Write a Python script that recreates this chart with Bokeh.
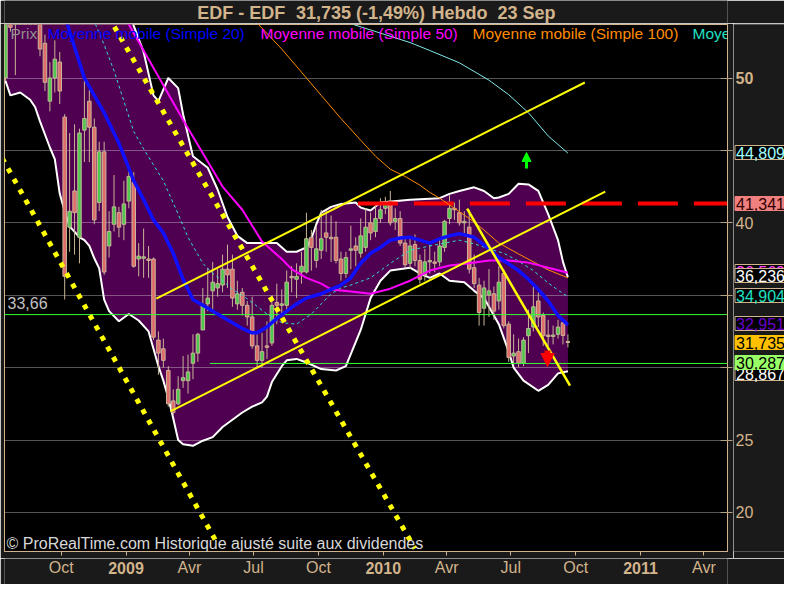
import numpy as np
import pandas as pd
from bokeh.plotting import figure
from bokeh.layouts import column, row
from bokeh.models import Range1d, FixedTicker, Label, Arrow, NormalHead, ColumnDataSource
from bokeh.core.properties import value
from bokeh.embed import file_html
from bokeh.resources import INLINE

# ---------------- data (weekly candles, EDF) ----------------
last_week = "2010-09-20"
opens = [50.0, 56.0, 55.5, 56.0, 57.0, 56.0, 56.5, 55.0, 52.4, 48.4,
         50.0, 51.1, 47.3, 39.7, 42.2, 39.0, 46.4, 48.4, 46.6, 41.4,
         44.9, 38.4, 39.9, 40.7, 39.9, 41.5, 42.8, 37.5, 37.55, 37.5,
         37.5, 31.9, 31.3, 29.8, 27.7, 27.5, 29.1, 29.1, 30.3, 31.0,
         32.6, 34.4, 35.3, 35.5, 35.7, 36.8, 36.8, 34.4, 35.2, 34.3,
         33.5, 31.5, 30.5, 31.5, 31.7, 34.5, 34.3, 34.3, 36.3, 36.1,
         36.6, 36.6, 39.0, 37.4, 38.1, 39.3, 39.0, 39.0, 37.5, 36.5,
         38.1, 38.4, 37.9, 38.3, 40.0, 39.4, 40.3, 41.0, 41.5, 40.1,
         40.3, 38.6, 37.2, 38.5, 37.4, 36.4, 37.3, 37.3, 37.3, 38.3,
         40.3, 41.0, 40.7, 40.0, 39.7, 36.9, 35.7, 34.1, 35.0, 35.1,
         34.6, 36.5, 33.0, 30.8, 31.1, 30.3, 32.2, 32.8, 34.6, 33.6,
         32.25, 32.15, 32.3, 33.1, 31.8]
highs = [55.0, 56.5, 56.8, 58.0, 57.8, 57.5, 57.0, 55.5, 53.0, 51.1,
         52.6, 51.8, 47.5, 46.2, 46.8, 46.5, 50.1, 49.2, 47.2, 45.6,
         45.6, 40.8, 43.3, 41.1, 42.9, 44.0, 43.5, 38.6, 39.6, 38.4,
         37.6, 32.5, 32.0, 30.1, 28.5, 29.4, 30.8, 30.9, 32.3, 32.4,
         35.5, 36.9, 37.3, 36.8, 37.8, 38.5, 37.8, 36.0, 35.5, 34.6,
         34.9, 32.3, 32.4, 33.2, 35.0, 35.8, 35.4, 36.7, 37.0, 37.2,
         38.0, 40.7, 39.5, 39.8, 40.9, 40.8, 40.5, 40.1, 38.0, 38.0,
         39.8, 39.0, 40.3, 41.0, 40.7, 41.3, 41.7, 41.8, 42.2, 41.0,
         40.8, 39.0, 39.0, 39.2, 37.8, 38.2, 38.5, 38.0, 38.8, 40.2,
         41.9, 41.4, 41.6, 40.8, 40.9, 37.8, 36.2, 36.0, 36.8, 35.6,
         37.0, 36.8, 33.2, 32.3, 32.0, 32.1, 34.0, 35.6, 35.2, 33.8,
         33.3, 32.9, 33.3, 33.3, 32.3]
lows = [49.8, 53.2, 50.2, 54.5, 55.0, 54.8, 54.0, 51.5, 49.1, 47.7,
        49.0, 48.2, 34.7, 38.0, 37.8, 37.2, 44.2, 44.2, 39.9, 40.8,
        36.4, 37.6, 39.4, 39.0, 38.8, 41.0, 36.9, 36.3, 36.2, 36.2,
        31.9, 29.5, 30.0, 27.3, 26.7, 27.4, 28.6, 28.2, 29.2, 30.4,
        32.6, 33.9, 34.0, 34.9, 35.2, 35.5, 34.2, 34.0, 33.6, 32.9,
        31.3, 29.9, 30.0, 30.6, 31.5, 33.0, 33.5, 33.9, 35.2, 34.8,
        35.8, 36.5, 36.7, 36.9, 37.5, 38.0, 37.3, 37.2, 36.0, 36.2,
        36.8, 37.0, 37.6, 38.0, 38.8, 39.0, 40.0, 40.6, 39.8, 39.5,
        38.4, 36.9, 36.8, 37.0, 35.8, 36.0, 36.5, 36.6, 37.0, 38.0,
        39.9, 40.2, 39.8, 39.3, 36.5, 35.5, 32.9, 32.9, 33.5, 33.3,
        34.0, 32.7, 30.4, 30.2, 30.0, 30.1, 31.0, 32.5, 32.8, 31.5,
        31.5, 31.6, 32.0, 31.6, 31.4]
closes = [54.5, 53.5, 56.0, 57.0, 56.0, 56.5, 55.0, 52.0, 49.7, 50.0,
          51.3, 49.1, 36.3, 40.8, 40.7, 46.2, 47.2, 46.6, 40.2, 44.9,
          36.6, 39.4, 41.1, 39.7, 41.3, 43.2, 37.0, 37.7, 37.65, 37.4,
          32.1, 31.0, 30.5, 27.5, 26.9, 28.5, 29.3, 29.7, 31.0, 32.3,
          34.3, 34.8, 35.9, 35.8, 36.8, 36.4, 34.8, 35.1, 34.3, 33.5,
          31.5, 30.5, 31.1, 31.4, 34.3, 34.3, 34.4, 35.9, 36.2, 36.3,
          37.0, 38.9, 38.3, 38.2, 38.9, 39.0, 38.9, 37.4, 36.5, 37.6,
          38.2, 38.1, 39.1, 39.7, 39.3, 40.3, 40.9, 41.3, 40.0, 40.3,
          38.6, 37.1, 38.4, 37.4, 36.1, 37.3, 37.4, 37.2, 38.4, 40.1,
          41.0, 40.9, 40.0, 40.1, 36.8, 35.8, 33.8, 35.5, 35.3, 33.9,
          35.9, 32.9, 30.7, 31.0, 30.3, 31.9, 32.7, 34.2, 33.5, 32.2,
          32.15, 32.25, 32.8, 32.215, 31.735]

# moving averages (week index, value)
ma20_idx = [11, 13, 16, 18, 20, 23, 26, 28, 30, 32, 34, 36, 38, 40, 43, 46, 48, 50, 51, 53,
            55, 57, 59, 61, 64, 66, 68, 70, 72, 74, 76, 78, 80, 82, 84, 86, 88, 90, 92, 95,
            98, 100, 104, 106, 108, 110, 112, 114]
ma20_val = [55.5, 53.2, 50.0, 48.8, 47.6, 45.5, 42.9, 41.6, 40.2, 39.3, 37.9, 36.1, 34.7, 34.3,
            33.7, 33.1, 32.7, 32.4, 32.4, 32.8, 33.4, 33.9, 34.4, 34.8, 35.1, 35.4, 35.7, 36.2,
            37.2, 37.9, 38.3, 38.8, 38.95, 39.0, 38.8, 38.6, 38.9, 39.1, 39.25, 39.0, 38.2, 37.6,
            36.7, 36.1, 35.4, 34.6, 33.6, 32.95]
ma50_idx = [24, 28, 32, 36, 40, 44, 48, 52, 56, 58, 61, 64, 66, 70, 74, 78, 82, 86, 90, 94,
            98, 102, 106, 110, 114]
ma50_val = [54.3, 51.9, 49.5, 47.1, 44.8, 42.5, 40.9, 38.7, 37.5, 36.8, 36.2, 35.8, 35.4, 35.25,
            35.1, 35.45, 36.0, 36.7, 37.05, 37.2, 37.4, 37.4, 37.25, 36.9, 36.55]
ma100_idx = [49, 51, 56, 60, 64, 68, 72, 75, 78, 81, 84, 86, 88, 91, 94, 97, 100, 104, 107, 110, 114]
ma100_val = [54.6, 53.8, 52.0, 50.4, 48.8, 47.2, 45.7, 44.6, 43.7, 43.2, 42.6, 42.1, 41.7, 41.0,
             40.3, 39.5, 38.6, 37.85, 37.3, 36.75, 36.2]
ma_long_idx = [68, 70, 76, 82, 86, 92, 98, 102, 106, 110, 114]
ma_long_val = [54.4, 53.75, 53.1, 52.45, 51.9, 51.05, 49.85, 48.85, 47.6, 46.0, 44.81]
ma_short_idx = [16, 18, 20, 22, 24, 26, 28, 30, 32, 35, 37, 40, 42, 44, 46, 48, 50, 53, 56, 59,
                62, 64, 66, 68, 70, 74, 78, 82, 86, 89, 92, 95, 98, 101, 104, 107, 110, 112, 114]
ma_short_val = [55.2, 53.9, 52.3, 50.5, 48.4, 46.3, 45.1, 44.0, 42.9, 40.6, 39.0, 37.2, 36.5,
                36.0, 35.4, 35.0, 34.5, 33.7, 33.1, 33.0, 33.7, 34.4, 35.1, 35.5, 35.7, 36.2,
                37.2, 38.1, 38.4, 38.6, 38.8, 38.55, 38.2, 37.9, 37.35, 36.7, 35.85, 35.35, 34.9]

# Bollinger bands
bb_up_idx = [0, 10, 20, 22, 24, 26, 28, 30, 31, 33, 35, 36, 38, 41, 43, 45, 47, 49, 52, 55,
             57, 59, 61, 62, 63, 64, 66, 68, 71, 72, 74, 76, 82, 88, 90, 92, 95, 97, 99, 100,
             102, 104, 106, 108, 110, 112, 113, 114]
bb_up_val = [62.0, 60.0, 58.0, 57.0, 55.5, 53.6, 51.8, 48.8, 48.4, 50.0, 49.3, 47.5, 44.6, 43.8,
             42.3, 40.4, 39.1, 38.6, 38.6, 38.6, 38.0, 38.0, 38.3, 38.9, 39.9, 40.7, 41.1, 41.3,
             41.4, 41.05, 40.85, 41.4, 41.6, 41.7, 42.0, 42.2, 42.45, 42.2, 41.7, 41.75, 42.0,
             42.7, 42.65, 42.2, 40.6, 38.8, 37.3, 36.24]
bb_lo_idx = [0, 1, 3, 5, 6, 7, 9, 10, 11, 12, 13, 15, 16, 17, 18, 19, 20, 21, 23, 25, 27, 29,
             30, 31, 32, 33, 34, 35, 36, 38, 40, 42, 44, 46, 48, 50, 52, 53, 54, 56, 57, 59, 61,
             64, 67, 69, 72, 74, 76, 78, 82, 84, 86, 88, 90, 93, 95, 97, 100, 102, 103, 105,
             108, 110, 112, 114]
bb_lo_val = [49.8, 48.8, 49.0, 48.5, 48.0, 47.0, 45.2, 44.4, 42.0, 40.8, 39.75, 39.0, 38.8,
             38.4, 37.55, 36.85, 34.7, 33.9, 33.2, 33.7, 33.25, 32.5, 31.3, 30.1, 29.1, 27.9,
             26.5, 25.0, 24.7, 24.6, 24.95, 25.2, 25.9, 26.4, 26.9, 27.3, 27.6, 28.0, 29.0,
             30.1, 30.5, 30.6, 30.35, 29.9, 29.8, 30.1, 32.6, 34.8, 36.0, 36.7, 36.9, 36.5,
             36.2, 36.5, 36.0, 35.9, 35.3, 34.8, 33.0, 31.1, 30.0, 29.1, 28.4, 28.8, 29.6, 29.75]

# drawn objects (dates, prices)
dotted1_dates = ["2008-07-01", "2009-05-08"]
dotted1_vals = [45.2, 18.07]
dotted2_dates = ["2008-11-20", "2010-02-15"]
dotted2_vals = [55.7, 17.50]
chan_up_dates = ["2009-02-13", "2010-10-14"]
chan_up_vals = [34.76, 49.69]
chan_lo_dates = ["2009-03-05", "2010-11-12"]
chan_lo_vals = [26.97, 42.16]
down_dates = ["2010-04-30", "2010-09-23"]
down_vals = [40.98, 28.76]
resistance = 41.341
resistance_from = "2009-11-26"
support_hi = 33.66
support_lo = 30.287
support_lo_from = "2009-04-30"
line_end = "2011-06-30"
line_begin = "2008-06-01"

xtick_dates = ["2008-10-01", "2009-01-01", "2009-04-01", "2009-07-01", "2009-10-01", "2010-01-01",
               "2010-04-01", "2010-07-01", "2010-10-01", "2011-01-01", "2011-04-01"]
xtick_labels = ["Oct", "2009", "Avr", "Jul", "Oct", "2010", "Avr", "Jul", "Oct", "2011", "Avr"]
ytick_vals = [20, 25, 30, 35, 40, 45, 50]
ytick_shown = [40, 25, 20]

# ---------------- layout helpers ----------------
FONT = "Liberation Sans"
TAN = "#d2b48c"
BG = "#1a1a1a"
X0 = pd.Timestamp("2009-01-01")
PX_PER_DAY = 0.7048


def px(xp):
    return (X0 + pd.Timedelta(days=(xp - 125.5) / PX_PER_DAY)).value / 1e6


def py(yp):
    return 40 - (yp - 222.3) / 14.48


def ms(d):
    return pd.Timestamp(d).value / 1e6


def bare(fig):
    fig.min_border_left = fig.min_border_right = 0
    fig.min_border_top = fig.min_border_bottom = 0
    fig.background_fill_color = BG
    fig.border_fill_color = BG
    fig.outline_line_color = None
    fig.xaxis.visible = False
    fig.yaxis.visible = False
    fig.xgrid.visible = False
    fig.ygrid.visible = False


weeks = pd.date_range(end=last_week, periods=len(closes), freq="7D")
wk_ms = np.array([t.value / 1e6 for t in weeks])


def wx(idx):
    return [wk_ms[i] for i in idx]


# ---------------- title strip ----------------
top = figure(width=784, height=23, x_range=Range1d(0, 784), y_range=Range1d(0, 23),
             output_backend="svg", toolbar_location=None)
bare(top)
top.text(x=[209, 316, 463], y=[11, 11, 11],
         text=["EDF - EDF", "31,735 (-1,49%)", "Hebdo\u00a0\u00a023 Sep"],
         text_color=TAN, text_font=value(FONT), text_font_size="18px",
         text_font_style="bold", text_baseline="middle", text_align="left")

# ---------------- main chart ----------------
p = figure(width=733, height=535, output_backend="svg", toolbar_location=None,
           x_range=Range1d(px(4), px(727)), y_range=Range1d(py(551), py(24)),
           y_axis_location="right")
p.min_border_left = 4
p.min_border_right = 6
p.min_border_top = 1
p.min_border_bottom = 7
p.background_fill_color = "black"
p.border_fill_color = BG
p.outline_line_color = TAN
p.outline_line_width = 1
p.xgrid.visible = False
p.ygrid.visible = False

xa = p.xaxis[0]
tick_ms = [int(pd.Timestamp(d).value // 10**6) for d in xtick_dates]
xa.ticker = FixedTicker(ticks=tick_ms)
xa.major_label_overrides = {t: "" for t in tick_ms}
xa.axis_line_color = TAN
xa.major_tick_line_color = TAN
xa.major_tick_in = 0
xa.major_tick_out = 4
xa.minor_tick_line_color = None
xa.major_label_standoff = 0
xa.major_label_text_font_size = "1px"

ya = p.yaxis[0]
ya.ticker = FixedTicker(ticks=ytick_vals)
ya.major_label_overrides = {v: "" for v in ytick_vals}
ya.axis_line_color = TAN
ya.major_tick_line_color = "#b0a080"
ya.major_tick_in = 7
ya.major_tick_out = 5
ya.minor_tick_line_color = None
ya.major_label_standoff = 0
ya.major_label_text_font_size = "1px"

# Bollinger fill
band_x = wx(bb_up_idx) + wx(bb_lo_idx)[::-1]
band_y = bb_up_val + bb_lo_val[::-1]
p.patch(band_x, band_y, fill_color="#500050", line_color=None)

# grid lines
p.hspan(y=ytick_vals, line_color="#e0e0e0", line_alpha=0.38, line_width=1)

# Bollinger lines
p.line(wx(bb_up_idx), bb_up_val, line_color="white", line_width=2)
p.line(wx(bb_lo_idx), bb_lo_val, line_color="white", line_width=2)

# candles
o = np.array(opens); c = np.array(closes)
src = ColumnDataSource(dict(x=wk_ms, o=o, c=c, h=highs, l=lows,
                            top=np.maximum(o, c), bot=np.minimum(o, c),
                            col=["#50c850" if cc >= oo else "#e06c6c" for oo, cc in zip(o, c)]))
p.segment(x0="x", y0="l", x1="x", y1="h", source=src, line_color="#c8b496", line_width=1)
p.vbar(x="x", width=5.0 * 86400000, top="top", bottom="bot", source=src,
       fill_color="col", line_color="#c8b496", line_width=1)

# horizontal levels
p.line([ms(line_begin), ms(line_end)], [support_hi, support_hi], line_color="#33ff33", line_width=1)
p.line([ms(support_lo_from), ms(line_end)], [support_lo, support_lo], line_color="#33ff33", line_width=1)
p.line([ms(resistance_from), ms(line_end)], [resistance, resistance], line_color="#ff0000",
       line_width=4, line_dash="40 16")

# moving averages
p.line(wx(ma_long_idx), ma_long_val, line_color="#80e8e8", line_width=1)
p.line(wx(ma100_idx), ma100_val, line_color="#ff8c00", line_width=1)
p.line(wx(ma_short_idx), ma_short_val, line_color="#30e0d0", line_width=1, line_dash="3 3")
p.line(wx(ma50_idx), ma50_val, line_color="#ff00ff", line_width=2)
p.line(wx(ma20_idx), ma20_val, line_color="#1010ff", line_width=3.5)

# trend lines
p.line([ms(d) for d in dotted1_dates], dotted1_vals, line_color="#ffff00", line_width=5, line_dash="5 7")
p.line([ms(d) for d in dotted2_dates], dotted2_vals, line_color="#ffff00", line_width=5, line_dash="5 7")
p.line([ms(d) for d in chan_up_dates], chan_up_vals, line_color="#ffff00", line_width=2)
p.line([ms(d) for d in chan_lo_dates], chan_lo_vals, line_color="#ffff00", line_width=2)
p.line([ms(d) for d in down_dates], down_vals, line_color="#ffff00", line_width=2.5)

# arrows
p.add_layout(Arrow(end=NormalHead(size=9, fill_color="#00ff00", line_color="#00ff00"),
                   x_start=px(526), y_start=py(168), x_end=px(526), y_end=py(152),
                   line_color="#00ff00", line_width=3))
p.add_layout(Arrow(end=NormalHead(size=13, fill_color="#ff0000", line_color="#ff0000"),
                   x_start=px(547), y_start=py(350), x_end=px(547), y_end=py(366),
                   line_color="#ff0000", line_width=6))

# legend row
leg = ColumnDataSource(dict(
    x=[px(10), px(47), px(260), px(472), px(692)],
    y=[py(33)] * 5,
    t=["Prix", "Moyenne mobile (Simple 20)", "Moyenne mobile (Simple 50)",
       "Moyenne mobile (Simple 100)", "Moye"],
    col=["#909090", "#0000ff", "#ff00ff", "#ff8c00", "#20e0c0"]))
p.text(x="x", y="y", text="t", text_color="col", source=leg, text_font=value(FONT),
       text_font_size="15.5px", text_baseline="middle", text_align="left")

# footer and level label
p.add_layout(Label(x=px(6), y=py(543), text="\u00a9 ProRealTime.com Historique ajust\u00e9 suite aux dividendes",
                   text_color="#d8d8d8", text_font=FONT, text_font_size="16px",
                   text_baseline="middle", text_align="left"))
p.add_layout(Label(x=px(7), y=py(302), text="33,66", text_color="#c0c0c0", text_font=FONT,
                   text_font_size="16px", text_baseline="middle", text_align="left"))

# ---------------- right price scale ----------------
side = figure(width=51, height=535, x_range=Range1d(0, 51), y_range=p.y_range,
              output_backend="svg", toolbar_location=None)
bare(side)
side.min_border_top = 1
side.min_border_bottom = 7
side.text(x=[2] * len(ytick_shown), y=ytick_shown, text=[str(v) for v in ytick_shown],
          text_color=TAN, text_font=value(FONT), text_font_size="16px",
          text_baseline="middle", text_align="left")
side.text(x=[2], y=[50], text=["50"], text_color=TAN, text_font=value(FONT),
          text_font_size="16px", text_font_style="bold", text_baseline="middle", text_align="left")

boxes = [
    ("44,809", 152, "#a0ffff", "black", TAN),
    ("41,341", 203, "#300000", "#f08080", "#f08080"),
    ("36,569", 271, "#ff40ff", "black", TAN),
    ("36,236", 275, "white", "black", TAN),
    ("34,904", 295, "#20e0c0", "black", TAN),
    ("32,951", 323, "#6a00c8", "black", TAN),
    ("31,735", 342, "black", "#ffc000", "#ffc000"),
    ("28,867", 373, "white", "black", TAN),
    ("30,287", 362, "black", "#99ff66", "#99ff66"),
]
for txt, yy, tc, bg, bc in boxes:
    side.add_layout(Label(x=1.5, y=py(yy), text=txt, text_color=tc, text_font=FONT,
                          text_font_size="16px", text_baseline="middle", text_align="left",
                          background_fill_color=bg, border_line_color=bc, padding=1))

# ---------------- time labels ----------------
bottom = figure(width=784, height=26, x_range=p.x_range, y_range=Range1d(0, 26),
                output_backend="svg", toolbar_location=None)
bare(bottom)
bottom.min_border_left = 4
bottom.min_border_right = 57
months = [(ms(d), l) for d, l in zip(xtick_dates, xtick_labels) if not l.isdigit()]
years = [(ms(d), l) for d, l in zip(xtick_dates, xtick_labels) if l.isdigit()]
bottom.text(x=[m[0] for m in months], y=[17] * len(months), text=[m[1] for m in months],
            text_color=TAN, text_font=value(FONT), text_font_size="16px",
            text_baseline="middle", text_align="center")
bottom.text(x=[m[0] for m in years], y=[17] * len(years), text=[m[1] for m in years],
            text_color=TAN, text_font=value(FONT), text_font_size="16px", text_font_style="bold",
            text_baseline="middle", text_align="center")

layout = column(top, row(p, side), bottom)
open("out.html", "w").write(file_html(layout, INLINE))
